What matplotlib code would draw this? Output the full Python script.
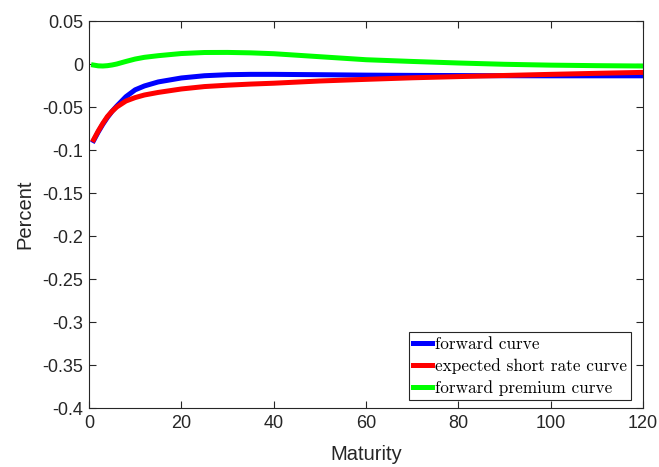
import matplotlib.pyplot as plt

# maturities (months) and curves
maturity = [1, 2, 3, 4, 5, 6, 8, 10, 12, 15, 20, 25, 30, 35, 40, 50, 60, 70, 80, 90, 100, 110, 120]
forward = [-0.089, -0.079, -0.070, -0.062, -0.055, -0.049, -0.038, -0.030, -0.0255, -0.0208, -0.0162,
           -0.0136, -0.0124, -0.0120, -0.0120, -0.0124, -0.0129, -0.0132, -0.0134, -0.0136, -0.0137,
           -0.0137, -0.0137]
short_rate = [-0.088, -0.078, -0.069, -0.061, -0.055, -0.050, -0.043, -0.039, -0.036, -0.033, -0.029,
              -0.0262, -0.0246, -0.0233, -0.0223, -0.0197, -0.0178, -0.0160, -0.0146, -0.0133, -0.0120,
              -0.0108, -0.0097]
premium = [-0.0012, -0.0021, -0.0023, -0.0019, -0.0011, 0.0000, 0.0030, 0.0058, 0.0078, 0.0097, 0.0122,
           0.0134, 0.0135, 0.0130, 0.0120, 0.0085, 0.0050, 0.0030, 0.0012, -0.0003, -0.0013,
           -0.0019, -0.0023]

xticks = [0, 20, 40, 60, 80, 100, 120]
yticks = [0.05, 0, -0.05, -0.1, -0.15, -0.2, -0.25, -0.3, -0.35, -0.4]
ytick_labels = ["0.05", "0", "-0.05", "-0.1", "-0.15", "-0.2", "-0.25", "-0.3", "-0.35", "-0.4"]

plt.rcParams['font.family'] = ['Liberation Sans', 'DejaVu Sans']

fig = plt.figure(figsize=(6.59, 4.67), dpi=100)
ax = fig.add_axes([0.135, 0.126, 0.841, 0.829])

ax.plot(maturity, forward, color='#0000ff', lw=3.6, label='forward curve')
ax.plot(maturity, short_rate, color='#ff0000', lw=3.6, label='expected short rate curve')
ax.plot(maturity, premium, color='#00ff00', lw=3.6, label='forward premium curve')

ax.set_xlim(0, 120)
ax.set_ylim(-0.4, 0.05)
ax.set_xticks(xticks)
ax.set_yticks(yticks)
ax.set_yticklabels(ytick_labels)
ax.tick_params(direction='in', top=True, right=True, labelsize=13, colors='#262626',
               length=5, width=0.8)
ax.tick_params(axis='x', pad=5)
ax.tick_params(axis='y', pad=4)
for s in ax.spines.values():
    s.set_color('#262626')
    s.set_linewidth(0.8)

ax.set_xlabel('Maturity', fontsize=14.5, color='#262626', labelpad=9)
ax.set_ylabel('Percent', fontsize=14.5, color='#262626', labelpad=6)

leg = ax.legend(loc='lower right', bbox_to_anchor=(0.978, 0.02), prop={'family': 'cmr10', 'size': 12.4},
                handlelength=1.1, handletextpad=0.15, borderpad=0.25, labelspacing=0.36,
                fancybox=False, framealpha=1, borderaxespad=0)
leg.get_frame().set_edgecolor('#262626')
leg.get_frame().set_linewidth(0.8)

fig.savefig('out.png', dpi=100)
